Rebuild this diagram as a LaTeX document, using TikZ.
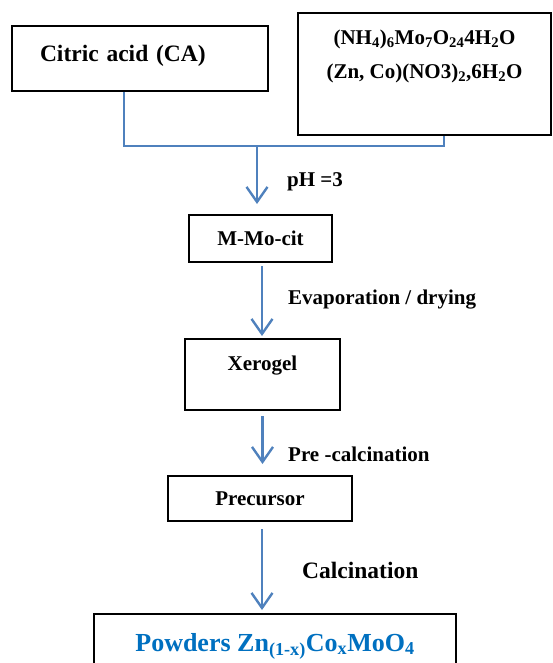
\documentclass[tikz,border=0pt]{standalone}
\usepackage{fontspec}
\setmainfont{Liberation Serif}
\usetikzlibrary{arrows.meta}
\definecolor{flowblue}{HTML}{4F81BD}
\definecolor{titleblue}{HTML}{0070C0}
\tikzstyle{box}=[draw,line width=2pt,rectangle,inner sep=0pt,font=\bfseries\fontsize{21}{25}\selectfont]
\tikzstyle{link}=[flowblue,line width=2.4pt]
\tikzstyle{arr}=[link,-{Straight Barb[length=15pt,width=21pt,line width=2.4pt]}]
\tikzstyle{lbl}=[anchor=west,inner sep=0pt,font=\bfseries\fontsize{21}{25}\selectfont]

\begin{document}
\begin{tikzpicture}[x=1pt,y=-1pt]
\useasboundingbox (0,0) rectangle (552,663);
\clip (0,0) rectangle (552,663);
% boxes
\node[box,minimum width=256pt,minimum height=65pt,text width=200pt,inner xsep=28pt,
  align=left,text depth=10pt,font=\bfseries\fontsize{23.5}{28}\selectfont] (ca) at (140,58.5) {Citric acid (CA)};
\node[box,minimum width=253pt,minimum height=122pt,align=center,text depth=39pt,
  font=\bfseries\fontsize{21}{34}\selectfont] (salts) at (424.5,74)
  {(NH\textsubscript{4})\textsubscript{6}Mo\textsubscript{7}O\textsubscript{24}4H\textsubscript{2}O\\
   (Zn, Co)(NO3)\textsubscript{2},6H\textsubscript{2}O};
\node[box,minimum width=143pt,minimum height=47pt] (cit) at (260.5,238.5) {M-Mo-cit};
\node[box,minimum width=155pt,minimum height=71pt,text depth=22pt] (xero) at (262.5,374.5) {Xerogel};
\node[box,minimum width=184pt,minimum height=45pt] (prec) at (260,498.5) {Precursor};
\node[box,minimum width=362pt,minimum height=64pt,text=titleblue,
  font=\bfseries\fontsize{26}{30}\selectfont] (powd) at (275,646)
  {Powders Zn\textsubscript{(1-x)}Co\textsubscript{x}MoO\textsubscript{4}};
% connectors
\coordinate (mix) at (257,146);
\draw[link] ([xshift=-16pt]ca.south) |- (mix) -| ([xshift=19.5pt]salts.south);
\draw[arr,shorten >=10pt] (mix) -- (mix |- cit.north);
\node[lbl] (ph) at (287,182) {pH =3};
\draw[arr,shorten <=3pt,shorten >=2pt] ([xshift=1.5pt]cit.south) -- ([xshift=1.5pt]cit.south |- xero.north);
\node[lbl] (evap) at (288,300) {Evaporation / drying};
\draw[arr,shorten <=5pt,shorten >=11pt] (xero.south) -- (xero.south |- prec.north);
\node[lbl] (precal) at (288,454) {Pre -calcination};
\draw[arr,shorten <=7pt,shorten >=3pt] ([xshift=2pt]prec.south) -- ([xshift=2pt]prec.south |- powd.north);
\node[lbl,font=\bfseries\fontsize{23.5}{28}\selectfont] (calc) at (302,570) {Calcination};
\end{tikzpicture}
\end{document}
